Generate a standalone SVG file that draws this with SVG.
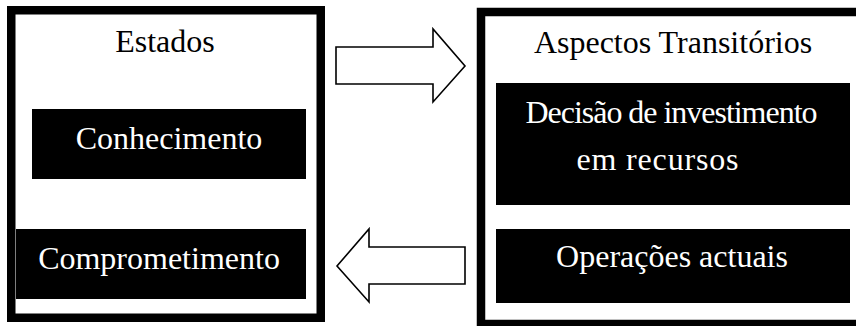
<svg xmlns="http://www.w3.org/2000/svg" width="856" height="326" viewBox="0 0 856 326">
  <style>
    .frame { fill: #ffffff; stroke: #000000; stroke-width: 8.5; }
    .block { fill: #000000; }
    .title { font-family: "Liberation Serif", "Times New Roman", serif; font-size: 32px; fill: #000000; text-anchor: middle; }
    .label { font-family: "Liberation Serif", "Times New Roman", serif; font-size: 32px; fill: #ffffff; text-anchor: middle; }
    .arrow { fill: #ffffff; stroke: #000000; stroke-width: 1.6; stroke-linejoin: miter; }
  </style>
  <rect width="856" height="326" fill="#ffffff"/>

  <!-- Left panel: states -->
  <g id="estados">
    <rect class="frame" x="11.25" y="10.25" width="309.5" height="307.5"/>
    <text class="title" x="165" y="52">Estados</text>
  </g>
  <g id="conhecimento">
    <rect class="block" x="32" y="109" width="274" height="70"/>
    <text class="label" x="169" y="149">Conhecimento</text>
  </g>
  <g id="comprometimento">
    <rect class="block" x="16" y="229" width="290" height="70"/>
    <text class="label" x="159" y="269">Comprometimento</text>
  </g>

  <!-- Right panel: transitional aspects -->
  <g id="aspectos">
    <rect class="frame" x="481" y="12" width="400" height="312"/>
    <text class="title" x="673" y="53">Aspectos Transitórios</text>
  </g>
  <g id="decisao">
    <rect class="block" x="496" y="83" width="354" height="122"/>
    <text class="label" x="671.5" y="123" font-size="31" textLength="292" lengthAdjust="spacing">Decisão de investimento</text>
    <text class="label" x="657.5" y="170" textLength="162" lengthAdjust="spacing">em recursos</text>
  </g>
  <g id="operacoes">
    <rect class="block" x="496" y="229" width="354" height="74"/>
    <text class="label" x="672" y="267">Operações actuais</text>
  </g>

  <!-- Block arrows between the panels -->
  <g id="connectors">
    <polygon class="arrow" points="336,47 433,47 433,29 465,66 433,102 433,84 336,84"/>
    <polygon class="arrow" points="465,247 369,247 369,229 337,266 369,302 369,284 465,284"/>
  </g>
</svg>
